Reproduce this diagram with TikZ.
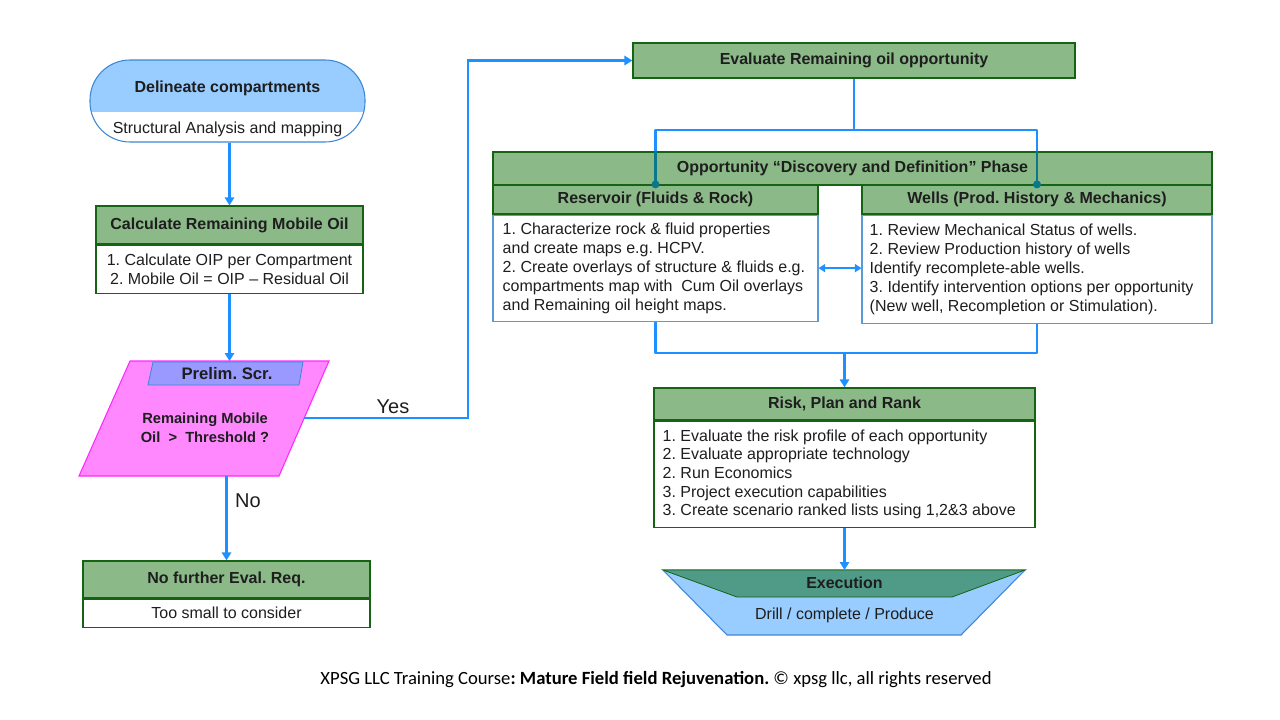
\documentclass[tikz,border=0pt]{standalone}
\usepackage{fontspec}
\setmainfont{Liberation Sans}
\newfontfamily\footfont{Carlito}
\usetikzlibrary{arrows.meta,positioning}
\frenchspacing

\definecolor{flowblue}{RGB}{30,144,255}
\definecolor{hdrgreen}{RGB}{139,186,136}
\definecolor{edgegreen}{RGB}{20,100,20}
\definecolor{bodyblue}{RGB}{91,155,213}
\definecolor{capblue}{RGB}{153,204,255}
\definecolor{capedge}{RGB}{60,135,215}
\definecolor{pinkfill}{RGB}{255,136,255}
\definecolor{pinkedge}{RGB}{255,40,255}
\definecolor{scrfill}{RGB}{153,153,255}
\definecolor{execgreen}{RGB}{80,155,135}
\definecolor{dotteal}{RGB}{10,120,140}
\definecolor{ink}{RGB}{30,30,30}

\tikzset{
  sz/.style 2 args={minimum width=#1*0.75pt, minimum height=#2*0.75pt},
  hdr/.style={draw=edgegreen, fill=hdrgreen, line width=0.9pt, inner sep=0pt, text=ink,
    font=\bfseries\fontsize{12}{14}\selectfont},
  body/.style={draw=edgegreen, fill=white, line width=0.9pt, inner sep=0pt, text=ink,
    align=center, font=\fontsize{12}{14}\selectfont},
  note/.style={draw=bodyblue, fill=white, line width=0.8pt, inner sep=0pt},
  notetext/.style={anchor=west, inner sep=0pt, text=ink, align=left, font=\fontsize{12}{14.2}\selectfont},
  flow/.style={draw=flowblue, line width=2.2pt},
  arr/.style={flow, -{Triangle[width=7pt,length=6pt]}},
  twoway/.style={draw=flowblue, line width=1.6pt, {Triangle[width=6pt,length=5pt]}-{Triangle[width=6pt,length=5pt]}},
  lbl/.style={text=ink, font=\fontsize{15}{17}\selectfont},
}

\begin{document}
\begin{tikzpicture}[x=0.75pt, y=-0.75pt]

      \useasboundingbox (0,0) rectangle (1280,720);

      \node[sz={275}{82}, draw=capedge, line width=0.8pt, fill=white, rounded corners=30pt,
        path picture={\fill[capblue, sharp corners] (path picture bounding box.north west)
          rectangle ([yshift=-8.5pt]path picture bounding box.east);}] (delin) at (227.5,101) {};
      \node[text=ink, font=\bfseries\fontsize{12}{14}\selectfont] (delint) at (227.5,88) {Delineate compartments};
      \node[text=ink, font=\fontsize{12}{14}\selectfont] (delins) at (227.5,129) {Structural Analysis and mapping};

      \node[hdr, sz={267}{38}] (calch) at (229.5,225) {Calculate Remaining Mobile Oil};
      \node[body, font=\fontsize{12}{14.2}\selectfont, sz={267}{48}, below=0pt of calch] (calcb)
        {1. Calculate OIP per Compartment\\2. Mobile Oil = OIP -- Residual Oil};

      \coordinate (pTL) at (130,361);
      \coordinate (pTR) at (329,361);
      \coordinate (pBR) at (279,476);
      \coordinate (pBL) at (79,476);
      \coordinate (pRight) at (304,418);
      \coordinate (pBot) at (226.5,476);
      \fill[pinkfill, draw=pinkedge, line width=0.8pt] (pTL) -- (pTR) -- (pBR) -- (pBL) -- cycle;
      \fill[scrfill, draw=capedge, line width=0.6pt] (153,362) -- (303,362) -- (299,385) -- (148,385) -- cycle;
      \node[text=ink, font=\bfseries\fontsize{12.5}{14}\selectfont] (prelim) at (227,374) {Prelim. Scr.};
      \node[text=ink, align=center, font=\bfseries\fontsize{11}{14}\selectfont] (ques) at (205,428)
        {Remaining Mobile\\Oil \ \textgreater\ \ Threshold ?};

      \node[hdr, sz={287}{37}] (nofh) at (226.5,579.5) {No further Eval. Req.};
      \node[body, sz={287}{28}, below=0pt of nofh] (nofb) {Too small to consider};

      \node[hdr, sz={442}{35}] (eval) at (854,60.5) {Evaluate Remaining oil opportunity};

      \node[hdr, sz={719}{33}] (opp) at (852.5,168.5) {Opportunity \textquotedblleft Discovery and Definition\textquotedblright\ Phase};
      \node[hdr, sz={325}{29}] (resh) at (655.5,199.5) {Reservoir (Fluids \& Rock)};
      \node[note, sz={325}{106}, below=0pt of resh] (resb) {};
      \node[notetext] (rest) at ([xshift=7.5pt]resb.west)
        {1. Characterize rock \& fluid properties\\%
         and create maps e.g. HCPV.\\%
         2. Create overlays of structure \& fluids e.g.\\%
         compartments map with \ Cum Oil overlays\\%
         and Remaining oil height maps.};
      \node[hdr, sz={350}{29}] (wellh) at (1037,199.5) {Wells (Prod. History \& Mechanics)};
      \node[note, sz={350}{108}, below=0pt of wellh] (wellb) {};
      \node[notetext] (wellt) at ([xshift=6pt]wellb.west)
        {1. Review Mechanical Status of wells.\\%
         2. Review Production history of wells\\%
         Identify recomplete-able wells.\\%
         3. Identify intervention options per opportunity\\%
         (New well, Recompletion or Stimulation).};

      \node[hdr, sz={381}{32}] (riskh) at (844.5,404) {Risk, Plan and Rank};
      \node[note, draw=edgegreen, line width=0.9pt, sz={381}{106}, below=0pt of riskh] (riskb) {};
      \node[notetext, font=\fontsize{12}{14}\selectfont] (riskt) at ([xshift=6.75pt]riskb.west)
        {1. Evaluate the risk profile of each opportunity\\%
         2. Evaluate appropriate technology\\%
         2. Run Economics\\%
         3. Project execution capabilities\\%
         3. Create scenario ranked lists using 1,2\&3 above};

      \coordinate (eTL) at (663,570);
      \coordinate (eTR) at (1025,570);
      \coordinate (eBR) at (961,635);
      \coordinate (eBL) at (727,635);
      \coordinate (exectop) at (844.5,570);
      \fill[capblue, draw=capedge, line width=0.8pt] (eTL) -- (eTR) -- (eBR) -- (eBL) -- cycle;
      \fill[execgreen, draw=edgegreen, line width=0.6pt] (eTL) -- (737,597) -- (952,597) -- (eTR) -- cycle;
      \node[text=ink, font=\bfseries\fontsize{12}{14}\selectfont] (exect) at (844.5,583) {Execution};
      \node[text=ink, font=\fontsize{12}{14}\selectfont] (execs) at (844.5,615) {Drill / complete / Produce};

      \coordinate (split) at (854,130);
      \coordinate (forkL) at (655.5,130);
      \coordinate (forkR) at (1037,130);
      \coordinate (joinL) at (655.5,353);
      \coordinate (bendY) at (468,418);

      \draw[arr] (calch.north |- delin.south) -- (calch.north);
      \draw[arr] (calcb.south) -- (calcb.south |- pTL);
      \draw[arr] (pRight) -- (bendY) -- (bendY |- eval.west) -- (eval.west);
      \draw[arr] (pBot) -- (pBot |- nofh.north);
      \node[lbl] (yes) at (393,407) {Yes};
      \node[lbl] (no) at (248,501) {No};

      \draw[flow] (eval.south -| split) -- (split);
      \draw[flow, line cap=round, line join=round] (forkL |- opp.north) -- (forkL) -- (forkR) -- (forkR |- opp.north);
      \draw[dotteal, line width=1.6pt] (forkL |- opp.north) -- (forkL |- resh.north);
      \draw[dotteal, line width=1.6pt] (forkR |- opp.north) -- (forkR |- resh.north);
      \fill[dotteal] (forkL |- resh.north) circle (4);
      \fill[dotteal] (forkR |- resh.north) circle (4);

      \draw[twoway] (resb.east) -- (resb.east -| wellb.west);

      \draw[flow, line join=round] (resb.south) -- (joinL) -| (wellb.south);
      \draw[arr] (joinL -| riskh.north) -- (riskh.north);
      \draw[arr] (riskb.south) -- (exectop);

      \node[font=\footfont\fontsize{14}{16}\selectfont] (foot) at (656,680)
        {XPSG LLC Training Course\textbf{: Mature Field field Rejuvenation.} \textcopyright\ xpsg llc, all rights reserved};

    \end{tikzpicture}
\end{document}
